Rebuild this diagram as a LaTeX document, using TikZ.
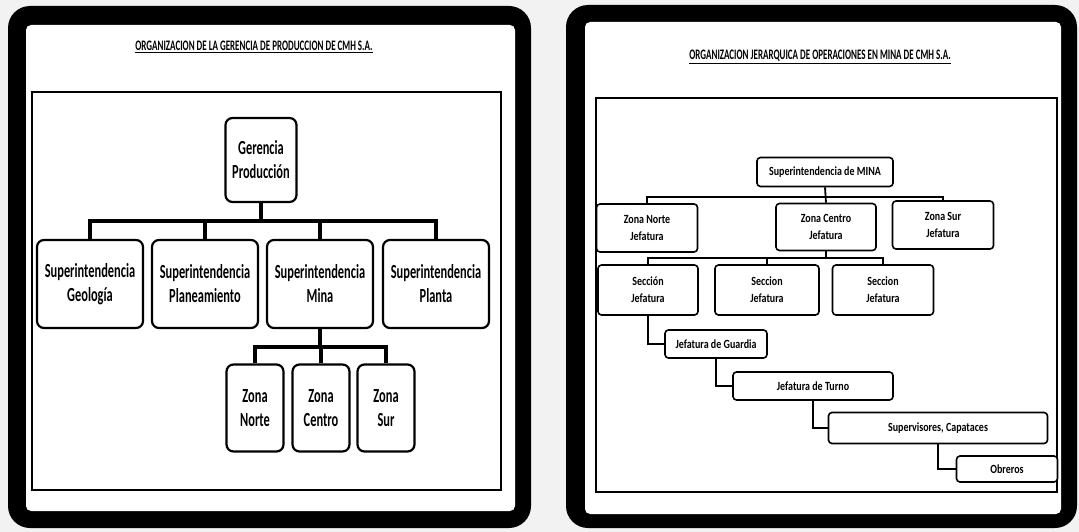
\documentclass[tikz,border=0pt]{standalone}
\usepackage{fontspec}
\usepackage{xcolor}
\usepackage{tikz}
\usetikzlibrary{positioning, calc}
\setmainfont{Carlito}
\newfontfamily\lfont{Carlito}[FakeStretch=0.62]
\newfontfamily\rfont{Carlito}[FakeStretch=0.8]
\definecolor{scangray}{RGB}{242,242,242}

\tikzset{
    panel/.style={fill=black, rounded corners=22pt},
    page/.style={fill=white, rounded corners=5pt},
    frame/.style={draw=black, line width=1.6pt},
    title/.style={font=\lfont\bfseries\fontsize{14.5}{16}\selectfont, inner sep=0pt},
    lbox/.style={
        draw=black,
        line width=2.2pt,
        rounded corners=7pt,
        fill=white,
        align=center,
        inner sep=0pt,
        font=\lfont\bfseries\fontsize{20}{24}\selectfont
    },
    rbox/.style={
        draw=black,
        line width=1.6pt,
        rounded corners=3.5pt,
        fill=white,
        align=center,
        inner sep=0pt,
        font=\rfont\bfseries\fontsize{12.5}{17}\selectfont
    },
    lwire/.style={draw=black, line width=4pt},
    rwire/.style={draw=black, line width=1.8pt}
}

\begin{document}
\begin{tikzpicture}[x=1pt, y=-1pt]
\useasboundingbox (0,0) rectangle (1079,532);
\fill[scangray] (0,0) rectangle (1079,532);

% left sheet
\fill[panel] (8,6) rectangle (531,528);
\fill[page] (26,25) rectangle (515,511);
\node[title] (tituloL) at (254,47) {\underline{ORGANIZACION DE LA GERENCIA DE PRODUCCION DE CMH S.A.}};
\draw[frame] (32,92) rectangle (501,490);

\node[lbox, minimum width=71pt, minimum height=84pt] (ger) at (261,160) {Gerencia\\Producción};
\node[lbox, minimum width=106pt, minimum height=88pt] (geo) at (90,284) {Superintendencia\\Geología};
\node[lbox, minimum width=106pt, minimum height=88pt] (pln) at (205,284) {Superintendencia\\Planeamiento};
\node[lbox, minimum width=106pt, minimum height=88pt] (mina) at (320,284) {Superintendencia\\Mina};
\node[lbox, minimum width=106pt, minimum height=88pt] (pta) at (436,284) {Superintendencia\\Planta};
\node[lbox, minimum width=57pt, minimum height=87pt] (znorte) at (255,408) {Zona\\Norte};
\node[lbox, minimum width=57pt, minimum height=87pt] (zcentro) at (321,408) {Zona\\Centro};
\node[lbox, minimum width=57pt, minimum height=87pt] (zsur) at (386,408) {Zona\\Sur};

\coordinate (busL) at (261,221);
\coordinate (busM) at (320,347);
\draw[lwire] (ger.south) -- (busL);
\draw[lwire] (geo.north) |- (busL) -| (pta.north);
\draw[lwire] (pln.north) -- (pln.north |- busL);
\draw[lwire] (mina.north) -- (mina.north |- busL);
\draw[lwire] (mina.south) -- (busM);
\draw[lwire] (znorte.north) |- (busM) -| (zsur.north);
\draw[lwire] (zcentro.north) -- (zcentro.north |- busM);

% right sheet
\fill[panel] (566,5) rectangle (1077,528);
\fill[page] (585,22) rectangle (1061,514);
\node[title] (tituloR) at (820,57) {\underline{ORGANIZACION JERARQUICA DE OPERACIONES EN MINA DE CMH S.A.}};
\draw[frame] (596,98) rectangle (1057,492);

\node[rbox, minimum width=136pt, minimum height=29pt] (supmina) at (825,172) {Superintendencia de MINA};
\node[rbox, minimum width=101pt, minimum height=48pt] (jnorte) at (647,228) {Zona Norte\\Jefatura};
\node[rbox, minimum width=100pt, minimum height=47pt] (jcentro) at (826,227) {Zona Centro\\Jefatura};
\node[rbox, minimum width=101pt, minimum height=48pt] (jsur) at (943,225) {Zona Sur\\Jefatura};
\node[rbox, minimum width=100pt, minimum height=50pt] (sec1) at (648,290) {Sección\\Jefatura};
\node[rbox, minimum width=104pt, minimum height=50pt] (sec2) at (767,290) {Seccion\\Jefatura};
\node[rbox, minimum width=101pt, minimum height=50pt] (sec3) at (883,290) {Seccion\\Jefatura};
\node[rbox, minimum width=102pt, minimum height=28pt] (guardia) at (716,344) {Jefatura de Guardia};
\node[rbox, minimum width=160pt, minimum height=28pt] (turno) at (813,386) {Jefatura de Turno};
\node[rbox, minimum width=219pt, minimum height=31pt] (capataz) at (938,428) {Supervisores, Capataces};
\node[rbox, minimum width=101pt, minimum height=26pt] (obreros) at (1007,469) {Obreros};

\coordinate (busZ) at (825,197);
\coordinate (busS) at (826,258);
\draw[rwire] (supmina.south) -- (jcentro.north);
\draw[rwire] (jnorte.north) |- (busZ) -| (jsur.north);
\draw[rwire] (jcentro.south) -- (busS);
\draw[rwire] (sec1.north) |- (busS) -| (sec3.north);
\draw[rwire] (sec2.north) -- (sec2.north |- busS);
\draw[rwire] (sec1.south) |- (guardia.west);
\draw[rwire] (guardia.south) |- (turno.west);
\draw[rwire] (turno.south) |- (capataz.west);
\draw[rwire] (capataz.south) |- (obreros.west);
\end{tikzpicture}
\end{document}
